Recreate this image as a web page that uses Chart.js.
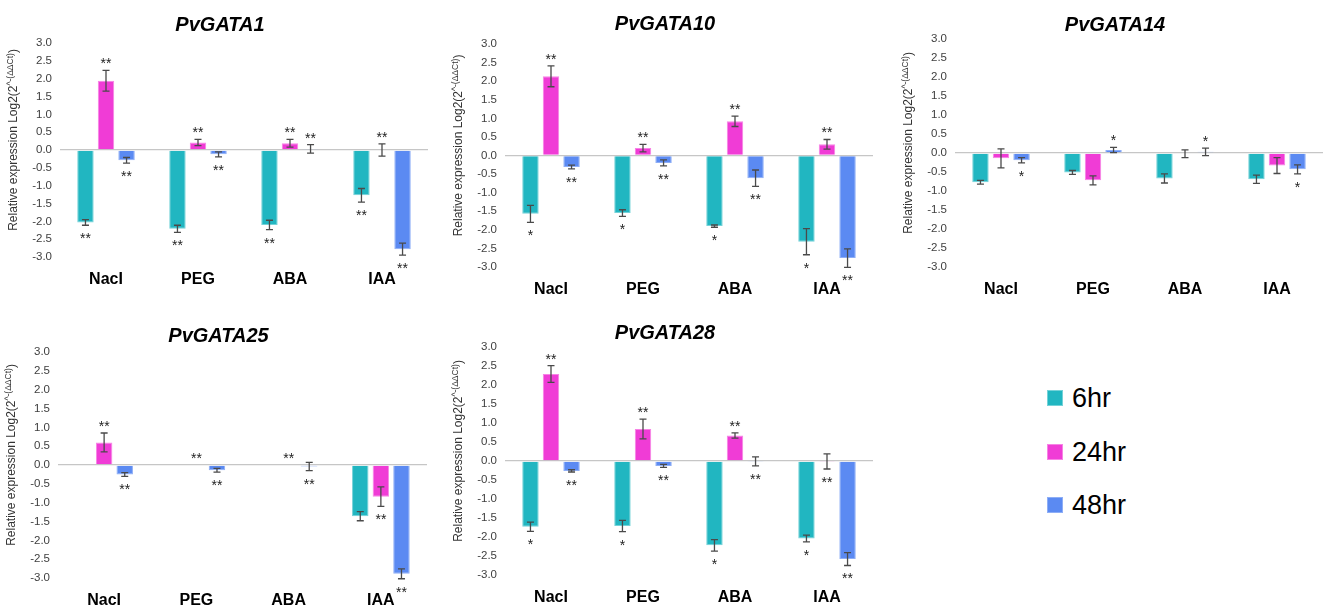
<!DOCTYPE html>
<html>
<head>
<meta charset="utf-8">
<title>PvGATA relative expression</title>
<script src="https://cdn.jsdelivr.net/npm/chart.js@4.4.1/dist/chart.umd.min.js"></script>
<style>
  html, body { margin: 0; padding: 0; background: #fff; overflow: hidden; }
  body { width: 1325px; height: 607px; position: relative; font-family: 'Liberation Sans', Arial, sans-serif; }
  .panel { position: absolute; }
  .legend-row { position: absolute; left: 1047px; height: 32px; display: flex; align-items: center; }
  .legend-box { width: 16px; height: 16px; margin-right: 9px; box-sizing: border-box; }
  .legend-text { font-size: 27px; color: #000; }
</style>
</head>
<body>
<script>
// ---- data ----
const categories = ['NacI', 'PEG', 'ABA', 'IAA'];
const seriesLabels = ['6hr', '24hr', '48hr'];
const seriesColors = ['#21b6c1', '#f03cd6', '#5b8af2'];
const seriesEdges = ['#74d2d8', '#f783e5', '#8eaef6'];
const yMin = -3, yMax = 3, yStep = 0.5;

// rows: 6hr, 24hr, 48hr ; columns follow categories
const gata1Means = [[-2.03, -2.21, -2.10, -1.27], [1.94, 0.21, 0.19, 0.00], [-0.29, -0.12, 0.03, -2.78]];
const gata1Errors = [[0.08, 0.10, 0.13, 0.19], [0.29, 0.09, 0.11, 0.17], [0.08, 0.07, 0.12, 0.17]];
const gata1Stars = [['**', '**', '**', '**'], ['**', '**', '**', '**'], ['**', '**', '**', '**']];

const gata10Means = [[-1.57, -1.55, -1.90, -2.32], [2.13, 0.20, 0.92, 0.30], [-0.31, -0.20, -0.61, -2.76]];
const gata10Errors = [[0.23, 0.09, 0.03, 0.35], [0.28, 0.10, 0.14, 0.13], [0.05, 0.08, 0.22, 0.25]];
const gata10Stars = [['*', '*', '*', '*'], ['**', '**', '**', '**'], ['**', '**', '**', '**']];

const gata14Means = [[-0.77, -0.51, -0.67, -0.69], [-0.14, -0.72, -0.02, -0.33], [-0.19, 0.08, 0.03, -0.43]];
const gata14Errors = [[0.05, 0.05, 0.12, 0.11], [0.25, 0.12, 0.10, 0.21], [0.07, 0.07, 0.10, 0.12]];
const gata14Stars = [['', '', '', ''], ['', '', '', ''], ['*', '*', '*', '*']];

const gata25Means = [[0, 0, 0, -1.36], [0.60, 0, 0, -0.84], [-0.25, -0.14, -0.04, -2.89]];
const gata25Errors = [[0, 0, 0, 0.12], [0.25, 0, 0, 0.26], [0.05, 0.05, 0.11, 0.13]];
const gata25Stars = [['', '', '', ''], ['**', '**', '**', '**'], ['**', '**', '**', '**']];

const gata28Means = [[-1.73, -1.71, -2.22, -2.04], [2.29, 0.84, 0.67, -0.01], [-0.26, -0.13, -0.01, -2.58]];
const gata28Errors = [[0.12, 0.15, 0.15, 0.09], [0.22, 0.26, 0.07, 0.20], [0.03, 0.04, 0.12, 0.17]];
const gata28Stars = [['*', '*', '*', '*'], ['**', '**', '**', '**'], ['**', '**', '**', '**']];

// ---- layout ----
const FONT = "'Liberation Sans', Arial, sans-serif";
const AXIS_W = 60;     // room left of plot for ticks + axis title
const TOP_PAD = 43;    // room above plot for panel title
const BOTTOM_H = 34;   // room below plot for category labels
const STAR_GAP = 10;
const STAR_SIZE = 14;

// box = plot area [left, top(3.0), right, bottom(-3.0)]
const panels = [
  { title: 'PvGATA1',  means: gata1Means,  errors: gata1Errors,  stars: gata1Stars,  box: [60, 43, 428, 257],  titleGap: 19 },
  { title: 'PvGATA10', means: gata10Means, errors: gata10Errors, stars: gata10Stars, box: [505, 44, 873, 267], titleGap: 21 },
  { title: 'PvGATA14', means: gata14Means, errors: gata14Errors, stars: gata14Stars, box: [955, 39, 1323, 267], titleGap: 15 },
  { title: 'PvGATA25', means: gata25Means, errors: gata25Errors, stars: gata25Stars, box: [58, 352, 427, 578], titleGap: 17 },
  { title: 'PvGATA28', means: gata28Means, errors: gata28Errors, stars: gata28Stars, box: [505, 347, 873, 575], titleGap: 15 }
];

// error bars, significance stars, panel title, y-axis title
function makeAnnotPlugin(p) {
  return {
    id: 'annot',
    afterDatasetsDraw(chart) {
      const ctx = chart.ctx;
      const y = chart.scales.y;
      const area = chart.chartArea;
      ctx.save();

      chart.data.datasets.forEach((ds, di) => {
        const meta = chart.getDatasetMeta(di);
        meta.data.forEach((bar, i) => {
          const v = ds.data[i];
          const e = p.errors[di][i];
          const up = v >= 0;
          if (e > 0) {
            const y1 = y.getPixelForValue(v + e);
            const y2 = y.getPixelForValue(v - e);
            ctx.strokeStyle = '#4a4a4a';
            ctx.lineWidth = 1.3;
            ctx.beginPath();
            ctx.moveTo(bar.x, y1); ctx.lineTo(bar.x, y2);
            ctx.moveTo(bar.x - 3.5, y1); ctx.lineTo(bar.x + 3.5, y1);
            ctx.moveTo(bar.x - 3.5, y2); ctx.lineTo(bar.x + 3.5, y2);
            ctx.stroke();
          }
          const s = p.stars[di][i];
          if (s) {
            const end = y.getPixelForValue(up ? v + e : v - e);
            const yc = end + (up ? -STAR_GAP : STAR_GAP);
            ctx.fillStyle = '#222';
            ctx.font = `${STAR_SIZE}px ${FONT}`;
            ctx.textAlign = 'center';
            ctx.textBaseline = 'alphabetic';
            ctx.fillText(s, bar.x, yc + 0.57 * STAR_SIZE);
          }
        });
      });

      // panel title
      ctx.fillStyle = '#000';
      ctx.font = `italic bold 20px ${FONT}`;
      ctx.textAlign = 'center';
      ctx.textBaseline = 'alphabetic';
      ctx.fillText(p.title, (area.left + area.right) / 2 - 24, area.top - p.titleGap + 7);

      // y-axis title with superscript part
      const main = 'Relative expression Log2(2';
      const sup = '^-(ΔΔCt)';
      const tail = ')';
      ctx.font = `12px ${FONT}`;
      const wMain = ctx.measureText(main).width;
      const wTail = ctx.measureText(tail).width;
      ctx.font = `8.5px ${FONT}`;
      const wSup = ctx.measureText(sup).width;
      const total = wMain + wSup + wTail;
      ctx.translate(area.left - 46, (area.top + area.bottom) / 2 - 10);
      ctx.rotate(-Math.PI / 2);
      ctx.fillStyle = '#333';
      ctx.textAlign = 'left';
      ctx.textBaseline = 'middle';
      let x = -total / 2;
      ctx.font = `12px ${FONT}`;
      ctx.fillText(main, x, 0);
      x += wMain;
      ctx.font = `8.5px ${FONT}`;
      ctx.fillText(sup, x, -3.5);
      x += wSup;
      ctx.font = `12px ${FONT}`;
      ctx.fillText(tail, x, 0);

      ctx.restore();
    }
  };
}

panels.forEach(p => {
  const [L, T, R, B] = p.box;
  const wrap = document.createElement('div');
  wrap.className = 'panel';
  wrap.style.left = (L - AXIS_W) + 'px';
  wrap.style.top = (T - TOP_PAD) + 'px';
  wrap.style.width = (R - L + AXIS_W) + 'px';
  wrap.style.height = (B - T + TOP_PAD + BOTTOM_H) + 'px';
  const canvas = document.createElement('canvas');
  wrap.appendChild(canvas);
  document.body.appendChild(wrap);

  new Chart(canvas, {
    type: 'bar',
    data: {
      labels: categories,
      datasets: seriesLabels.map((label, si) => ({
        label,
        data: p.means[si],
        backgroundColor: seriesColors[si],
        borderColor: seriesEdges[si],
        borderWidth: 1,
        categoryPercentage: 0.67,
        barPercentage: 0.8
      }))
    },
    options: {
      responsive: true,
      maintainAspectRatio: false,
      animation: false,
      layout: { padding: { top: TOP_PAD, left: 0, right: 0, bottom: 0 } },
      plugins: {
        legend: { display: false },
        title: { display: false },
        tooltip: { enabled: false }
      },
      scales: {
        x: {
          grid: { display: false },
          border: { display: false },
          ticks: { color: '#000', font: { family: FONT, size: 16, weight: 'bold' }, padding: 5 },
          afterFit: s => { s.height = BOTTOM_H; }
        },
        y: {
          min: yMin,
          max: yMax,
          border: { display: false },
          grid: {
            drawTicks: false,
            lineWidth: 1.3,
            color: c => (c.tick && Math.abs(c.tick.value) < 1e-9 ? '#c6c6c6' : 'rgba(0,0,0,0)')
          },
          ticks: {
            stepSize: yStep,
            padding: 8,
            color: '#404040',
            font: { family: FONT, size: 11.5 },
            callback: v => (Math.abs(v) < 1e-9 ? '0.0' : Number(v).toFixed(1))
          },
          afterFit: s => { s.width = AXIS_W; }
        }
      }
    },
    plugins: [makeAnnotPlugin(p)]
  });
});

// legend
const legendRowsY = [398, 452, 505];
seriesLabels.forEach((label, si) => {
  const row = document.createElement('div');
  row.className = 'legend-row';
  row.style.top = (legendRowsY[si] - 16) + 'px';
  row.innerHTML = `<span class="legend-box" style="background:${seriesColors[si]};border:1px solid ${seriesEdges[si]}"></span><span class="legend-text">${label}</span>`;
  document.body.appendChild(row);
});
</script>
</body>
</html>
